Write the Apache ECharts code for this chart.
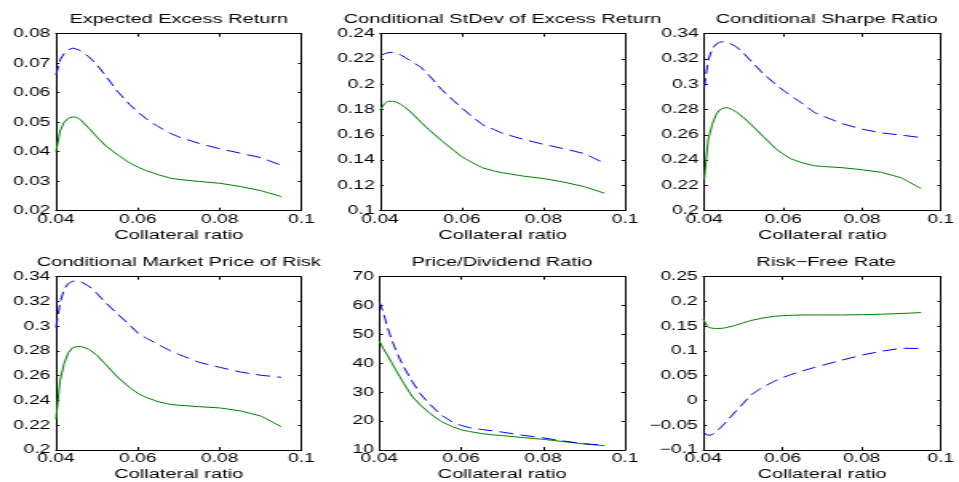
<!DOCTYPE html>
<html>
<head>
<meta charset="utf-8">
<script src="https://cdn.jsdelivr.net/npm/echarts@6/dist/echarts.min.js"></script>
<style>
  html, body { margin: 0; padding: 0; background: #fff; overflow: hidden; }
  /* Figure is laid out on a 600px-wide canvas and widened to the page width,
     which gives the broad, stretched lettering of the exported figure. */
  #chart { width: 600px; height: 482px; transform: scaleX(1.598333); transform-origin: 0 0; }
</style>
</head>
<body>
<div id="chart"></div>
<script>
// Collateral ratio grid shared by all panels
const collateral = [0.040, 0.041, 0.042, 0.043, 0.044, 0.045, 0.046, 0.048, 0.050, 0.052, 0.055,
                    0.058, 0.060, 0.062, 0.065, 0.068, 0.070, 0.075, 0.080, 0.085, 0.090, 0.095];

// Expected excess return
const excessSolid  = [0.0400, 0.0470, 0.0500, 0.0513, 0.0518, 0.0517, 0.0508, 0.0480, 0.0450, 0.0422, 0.0390,
                      0.0362, 0.0348, 0.0336, 0.0322, 0.0310, 0.0306, 0.0299, 0.0293, 0.0282, 0.0268, 0.0248];
const excessDashed = [0.0660, 0.0711, 0.0733, 0.0745, 0.0751, 0.0748, 0.0742, 0.0722, 0.0695, 0.0660, 0.0605,
                      0.0560, 0.0534, 0.0512, 0.0485, 0.0462, 0.0450, 0.0428, 0.0410, 0.0395, 0.0380, 0.0354];

// Conditional standard deviation of the excess return
const stdevSolid  = [0.1796, 0.1845, 0.1865, 0.1866, 0.1858, 0.1842, 0.1822, 0.1765, 0.1700, 0.1640, 0.1555,
                     0.1478, 0.1427, 0.1390, 0.1340, 0.1313, 0.1300, 0.1274, 0.1254, 0.1226, 0.1190, 0.1138];
const stdevDashed = [0.2223, 0.2240, 0.2250, 0.2252, 0.2246, 0.2233, 0.2215, 0.2175, 0.2135, 0.2070, 0.1960,
                     0.1870, 0.1812, 0.1758, 0.1682, 0.1640, 0.1612, 0.1565, 0.1525, 0.1490, 0.1452, 0.1375];

// Conditional Sharpe ratio
const sharpeSolid  = [0.2250, 0.2560, 0.2680, 0.2760, 0.2800, 0.2812, 0.2815, 0.2785, 0.2735, 0.2678, 0.2585,
                      0.2495, 0.2447, 0.2410, 0.2377, 0.2355, 0.2350, 0.2340, 0.2324, 0.2303, 0.2260, 0.2175];
const sharpeDashed = [0.2976, 0.3190, 0.3280, 0.3318, 0.3333, 0.3337, 0.3330, 0.3300, 0.3245, 0.3178, 0.3082,
                      0.3003, 0.2953, 0.2908, 0.2845, 0.2775, 0.2750, 0.2688, 0.2645, 0.2615, 0.2598, 0.2578];

// Conditional market price of risk
const mprSolid  = [0.2250, 0.2560, 0.2700, 0.2785, 0.2825, 0.2834, 0.2837, 0.2815, 0.2765, 0.2697, 0.2590,
                   0.2505, 0.2458, 0.2425, 0.2390, 0.2368, 0.2362, 0.2350, 0.2340, 0.2316, 0.2275, 0.2188];
const mprDashed = [0.2990, 0.3190, 0.3300, 0.3345, 0.3362, 0.3367, 0.3360, 0.3325, 0.3265, 0.3195, 0.3100,
                   0.3010, 0.2945, 0.2905, 0.2852, 0.2800, 0.2772, 0.2708, 0.2668, 0.2630, 0.2604, 0.2587];

// Price/dividend ratio
const pdSolid  = [47.7, 45.0, 42.8, 40.3, 37.8, 35.4, 33.0, 28.6, 25.6, 23.1, 19.9,
                  18.0, 17.0, 16.4, 15.7, 15.2, 15.0, 14.3, 13.7, 12.9, 12.1, 11.5];
const pdDashed = [61.3, 57.5, 52.5, 48.3, 44.8, 41.5, 38.7, 33.8, 29.5, 26.3, 22.2,
                  19.5, 18.5, 17.7, 17.1, 16.6, 16.2, 15.1, 14.2, 13.1, 12.2, 11.6];

// Risk-free rate
const rfSolid  = [0.1640, 0.1495, 0.1462, 0.1455, 0.1455, 0.1460, 0.1475, 0.1515, 0.1565, 0.1615, 0.1665,
                  0.1700, 0.1712, 0.1720, 0.1727, 0.1728, 0.1728, 0.1728, 0.1732, 0.1742, 0.1757, 0.1775];
const rfDashed = [-0.0637, -0.0700, -0.0700, -0.0650, -0.0575, -0.0500, -0.0410, -0.0235, -0.0065, 0.0110, 0.0270,
                  0.0390, 0.0460, 0.0520, 0.0595, 0.0665, 0.0710, 0.0815, 0.0915, 0.0995, 0.1055, 0.1050];

// Axis settings
const xTitle = 'Collateral ratio';
const xMin = 0.04, xMax = 0.1, xStep = 0.02;
const panelTitles = ['Expected Excess Return', 'Conditional StDev of Excess Return', 'Conditional Sharpe Ratio',
                     'Conditional Market Price of Risk', 'Price/Dividend Ratio', 'Risk\u2212Free Rate'];
const yMins  = [0.02, 0.10, 0.20, 0.20, 10, -0.10];
const yMaxs  = [0.08, 0.24, 0.34, 0.34, 70, 0.25];
const ySteps = [0.01, 0.02, 0.02, 0.02, 10, 0.05];
const solidSeries  = [excessSolid, stdevSolid, sharpeSolid, mprSolid, pdSolid, rfSolid];
const dashedSeries = [excessDashed, stdevDashed, sharpeDashed, mprDashed, pdDashed, rfDashed];

// Plot boxes on the 600px layout canvas
const boxes = [
  { left: 35.0,  top: 33.7,  width: 153.7, height: 177.0 },
  { left: 237.8, top: 33.7,  width: 153.3, height: 177.0 },
  { left: 440.6, top: 33.7,  width: 153.3, height: 177.0 },
  { left: 35.0,  top: 276.7, width: 153.7, height: 176.6 },
  { left: 237.3, top: 276.7, width: 153.7, height: 176.6 },
  { left: 440.0, top: 276.7, width: 153.9, height: 176.6 }
];

const FONT = 'Liberation Sans, Arial, Helvetica, sans-serif';
const fmt = v => String(+v.toFixed(6)).replace('-', '\u2212');
const axisLine = { show: true, onZero: false, lineStyle: { color: '#000', width: 1 } };

const grid = [], xAxis = [], yAxis = [], title = [], series = [];

boxes.forEach((b, i) => {
  grid.push({ left: b.left, top: b.top, width: b.width, height: b.height, containLabel: false });

  title.push({
    text: panelTitles[i],
    left: b.left + b.width / 2,
    top: b.top - 20.5,
    padding: 0,
    textAlign: 'center',
    textStyle: { fontFamily: FONT, fontSize: 12.5, fontWeight: 'normal', color: '#000' }
  });

  // bottom x axis with labels
  xAxis.push({
    type: 'value', gridIndex: i, position: 'bottom', min: xMin, max: xMax, interval: xStep,
    name: xTitle, nameLocation: 'middle', nameGap: 18,
    nameTextStyle: { fontFamily: FONT, fontSize: 12.5, color: '#000', verticalAlign: 'top' },
    axisLine, axisTick: { show: true, inside: true, length: 3, lineStyle: { color: '#000' } },
    axisLabel: { show: true, margin: 3, fontFamily: FONT, fontSize: 12, color: '#000', formatter: fmt,
                 showMinLabel: true, showMaxLabel: true, hideOverlap: false },
    splitLine: { show: false }
  });
  // top x axis closes the box
  xAxis.push({
    type: 'value', gridIndex: i, position: 'top', min: xMin, max: xMax, interval: xStep,
    axisLine, axisTick: { show: true, inside: true, length: 3, lineStyle: { color: '#000' } },
    axisLabel: { show: false }, splitLine: { show: false }
  });

  // left y axis with labels
  yAxis.push({
    type: 'value', gridIndex: i, position: 'left', min: yMins[i], max: yMaxs[i], interval: ySteps[i],
    axisLine, axisTick: { show: true, inside: true, length: 2.2, lineStyle: { color: '#000' } },
    axisLabel: { show: true, margin: 3.5, fontFamily: FONT, fontSize: 12, color: '#000', formatter: fmt,
                 showMinLabel: true, showMaxLabel: true, hideOverlap: false },
    splitLine: { show: false }
  });
  // right y axis closes the box
  yAxis.push({
    type: 'value', gridIndex: i, position: 'right', min: yMins[i], max: yMaxs[i], interval: ySteps[i],
    axisLine, axisTick: { show: true, inside: true, length: 2.2, lineStyle: { color: '#000' } },
    axisLabel: { show: false }, splitLine: { show: false }
  });

  series.push({
    type: 'line', xAxisIndex: 2 * i, yAxisIndex: 2 * i,
    data: collateral.map((x, k) => [x, solidSeries[i][k]]),
    showSymbol: false, symbol: 'none', smooth: false,
    lineStyle: { color: '#008000', width: 1 }, z: 3
  });
  series.push({
    type: 'line', xAxisIndex: 2 * i, yAxisIndex: 2 * i,
    data: collateral.map((x, k) => [x, dashedSeries[i][k]]),
    showSymbol: false, symbol: 'none', smooth: false,
    lineStyle: { color: '#0000ff', width: 1, type: [9, 4.5] }, z: 3
  });
});

const chart = echarts.init(document.getElementById('chart'), null, { renderer: 'canvas' });
chart.setOption({
  animation: false,
  backgroundColor: '#fff',
  title, grid, xAxis, yAxis, series
});
</script>
</body>
</html>
